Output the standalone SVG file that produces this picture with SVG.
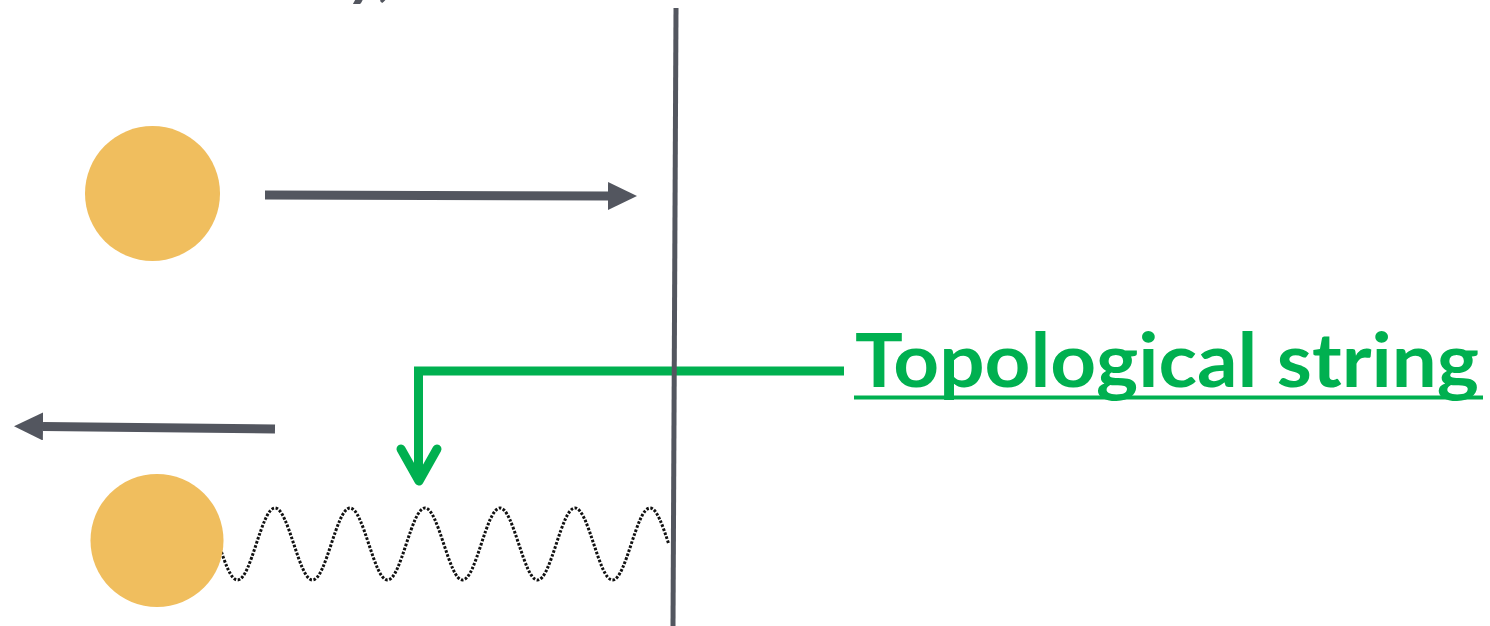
<svg xmlns="http://www.w3.org/2000/svg" width="1490" height="626" viewBox="0 0 1490 626">
<style>
.gray{stroke:#53565F;fill:none}
.ball{fill:#F0BE5E}
.green{stroke:#00B050;fill:none;stroke-width:9}
.wave{stroke:#111;fill:none;stroke-width:3;stroke-dasharray:2.6 1.6}
.label{font-family:Lato,"Open Sans",sans-serif;font-weight:700;fill:#00B050}
</style>
<defs>
<marker id="ah" markerUnits="userSpaceOnUse" markerWidth="30" markerHeight="28" refX="0" refY="14" orient="auto" viewBox="0 0 30 28">
<path d="M0,0 L29,14 L0,28 Z" fill="#53565F"/>
</marker>
</defs>
<rect width="1490" height="626" fill="#fff"/>
<text x="350" y="-6" font-family="Lato,'Open Sans',sans-serif" font-weight="700" font-style="italic" font-size="64" fill="#53565F">y,</text>
<g id="wave"><path class="wave" d="M218.75 544 c6.115 18.44 11.996 36 18.75 36 c6.754 0 12.635 -17.56 18.75 -36 c6.115 -18.44 11.996 -36 18.75 -36 c6.754 0 12.635 17.56 18.75 36 c6.115 18.44 11.996 36 18.75 36 c6.754 0 12.635 -17.56 18.75 -36 c6.115 -18.44 11.996 -36 18.75 -36 c6.754 0 12.635 17.56 18.75 36 c6.115 18.44 11.996 36 18.75 36 c6.754 0 12.635 -17.56 18.75 -36 c6.115 -18.44 11.996 -36 18.75 -36 c6.754 0 12.635 17.56 18.75 36 c6.115 18.44 11.996 36 18.75 36 c6.754 0 12.635 -17.56 18.75 -36 c6.115 -18.44 11.996 -36 18.75 -36 c6.754 0 12.635 17.56 18.75 36 c6.115 18.44 11.996 36 18.75 36 c6.754 0 12.635 -17.56 18.75 -36 c6.115 -18.44 11.996 -36 18.75 -36 c6.754 0 12.635 17.56 18.75 36 c6.115 18.44 11.996 36 18.75 36 c6.754 0 12.635 -17.56 18.75 -36 c6.115 -18.44 11.996 -36 18.75 -36 c6.754 0 12.635 17.56 18.75 36"/></g>
<g id="ball1"><circle class="ball" cx="152.5" cy="193.5" r="67.5"/></g>
<g id="ball2"><circle class="ball" cx="157" cy="540.5" r="66.5"/></g>
<g id="connectors">
<path class="green" d="M844 371 H418.5 V478" stroke-linejoin="miter"/>
<path class="green" d="M401 449 L419 481 L437 449" stroke-linecap="round" stroke-linejoin="round"/>
<line class="gray" x1="265" y1="195" x2="608" y2="196" stroke-width="9" marker-end="url(#ah)"/>
<line class="gray" x1="275" y1="429" x2="43" y2="426.5" stroke-width="9" marker-end="url(#ah)"/>
</g>
<g id="wall"><line class="gray" x1="676" y1="8" x2="673" y2="626" stroke-width="5"/></g>
<g id="label">
<text class="label" x="855" y="387" font-size="75" textLength="624" lengthAdjust="spacingAndGlyphs">Topological string</text>
<line x1="854" y1="397.5" x2="1483" y2="397.5" stroke="#00B050" stroke-width="4"/>
</g>
</svg>
